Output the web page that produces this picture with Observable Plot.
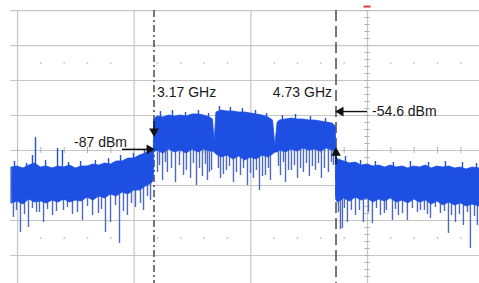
<!DOCTYPE html>
<html>
<head>
<meta charset="utf-8">
<script src="https://cdn.jsdelivr.net/npm/d3@7"></script>
<script src="https://cdn.jsdelivr.net/npm/@observablehq/plot@0.6"></script>
<style>
  html, body { margin: 0; padding: 0; background: #fff; }
  #chart svg { display: block; }
</style>
</head>
<body>
<div id="chart"></div>
<script>
// ---- Data (frequency in GHz, level in dBm) ----
const freq = [1.95,2.00,2.05,2.10,2.15,2.20,2.25,2.30,2.35,2.40,2.45,2.50,2.55,2.60,2.65,2.70,2.75,2.80,2.85,2.90,2.95,3.00,3.05,3.10,3.15,3.168,
  3.172,3.20,3.25,3.30,3.35,3.40,3.45,3.50,3.55,3.60,3.65,3.675,3.69,3.705,3.75,3.80,3.85,3.90,3.95,4.00,4.05,4.10,4.15,4.19,4.21,4.23,4.25,4.30,4.35,4.40,4.45,4.50,4.55,4.60,4.65,4.70,4.728,
  4.732,4.75,4.80,4.85,4.90,4.95,5.00,5.05,5.10,5.15,5.20,5.25,5.30,5.35,5.40,5.45,5.50,5.55,5.60,5.65,5.70,5.75,5.80,5.85,5.90,5.96];

const bandTop = [-102.6,-101.7,-103.4,-100.9,-99.1,-102.6,-101.7,-103.4,-101.7,-102.6,-100.9,-103.4,-101.7,-101.7,-100.0,-100.9,-99.1,-100.0,-97.4,-97.4,-94.9,-94.9,-92.3,-90.6,-88.0,-86.3,
  -61.4,-58.9,-59.7,-58.0,-58.9,-58.0,-58.9,-57.1,-57.1,-58.0,-59.7,-61.4,-81.1,-55.4,-53.7,-54.6,-54.6,-55.4,-55.4,-56.3,-57.1,-58.0,-59.7,-62.3,-83.7,-64.0,-62.3,-61.4,-60.6,-61.4,-61.4,-62.3,-62.3,-63.1,-64.0,-64.9,-67.4,
  -94.0,-95.7,-97.4,-99.1,-98.3,-100.9,-100.0,-101.7,-100.9,-102.6,-100.9,-102.6,-101.7,-103.4,-101.7,-102.6,-100.9,-103.4,-101.7,-102.6,-101.7,-103.4,-102.6,-104.3,-102.6,-103.4];

const bandBottom = [-133.4,-131.7,-134.3,-130.0,-132.6,-131.7,-133.4,-130.9,-132.6,-130.0,-132.6,-130.9,-131.7,-128.3,-130.9,-127.4,-129.1,-125.7,-127.4,-124.0,-125.7,-122.3,-122.3,-118.9,-116.3,-113.7,
  -89.7,-88.0,-90.6,-87.1,-89.7,-88.0,-90.6,-87.1,-89.7,-87.1,-88.9,-88.9,-89.7,-91.4,-94.0,-92.3,-95.7,-93.1,-96.6,-94.0,-95.7,-92.3,-94.0,-91.4,-89.7,-89.7,-88.0,-89.7,-87.1,-88.9,-86.3,-88.0,-87.1,-88.9,-86.3,-88.0,-88.9,
  -130.9,-132.6,-129.1,-131.7,-128.3,-130.9,-129.1,-132.6,-130.0,-131.7,-129.1,-132.6,-130.9,-133.4,-130.0,-132.6,-130.9,-134.3,-131.7,-135.1,-132.6,-135.1,-133.4,-136.0,-134.3,-136.0];

// downward noise spikes: [frequency, start level, tip level]
const downSpikes = [
  [1.965,-120,-145.4],[2.025,-120,-158.3],[2.094,-120,-154.0],[2.163,-120,-141.1],[2.223,-120,-149.7],[2.300,-120,-143.7],
  [2.394,-120,-139.4],[2.471,-120,-142.9],[2.557,-120,-148.0],[2.643,-120,-143.7],[2.694,-118,-142.0],[2.754,-118,-158.3],
  [2.797,-118,-149.7],[2.874,-115,-167.7],[2.942,-112,-143.7],[3.011,-110,-136.9],[3.054,-108,-133.4],[3.080,-106,-139.4],[3.140,-104,-130.9],
  [1.991,-120,-139.4],[2.060,-120,-142.9],[2.128,-120,-137.7],[2.188,-120,-141.1],[2.257,-120,-138.6],[2.334,-120,-140.3],
  [2.428,-120,-136.9],[2.514,-120,-141.1],[2.600,-120,-136.0],[2.720,-118,-138.6],[2.840,-115,-135.1],[2.908,-112,-140.3],
  [2.977,-110,-133.4],[3.114,-104,-127.4],
  [3.200,-75,-106.9],[3.243,-75,-113.7],[3.285,-75,-106.9],[3.354,-75,-115.4],[3.423,-75,-109.4],[3.483,-75,-112.0],
  [3.534,-75,-118.0],[3.585,-75,-110.3],[3.628,-75,-113.7],[3.663,-75,-105.1],[3.740,-75,-112.0],[3.791,-75,-105.1],
  [3.851,-75,-115.4],[3.911,-75,-109.4],[3.971,-75,-118.0],[4.022,-75,-112.0],[4.074,-75,-122.3],[4.125,-75,-109.4],
  [4.168,-75,-113.7],[4.254,-75,-109.4],[4.297,-75,-115.4],[4.348,-75,-105.1],[4.400,-75,-112.0],[4.451,-75,-106.9],
  [4.502,-75,-110.3],[4.554,-75,-105.1],[4.605,-75,-112.0],[4.665,-75,-106.9],[4.708,-75,-100.9],
  [3.217,-75,-100.9],[3.268,-75,-98.3],[3.320,-75,-103.4],[3.388,-75,-100.9],[3.448,-75,-105.1],[3.508,-75,-99.1],
  [3.560,-75,-103.4],[3.611,-75,-100.0],[3.645,-75,-106.9],[3.722,-75,-103.4],[3.765,-75,-108.6],[3.817,-75,-101.7],
  [3.877,-75,-106.9],[3.937,-75,-103.4],[3.997,-75,-107.7],[4.048,-75,-105.1],[4.100,-75,-110.3],[4.151,-75,-103.4],
  [4.237,-75,-101.7],[4.280,-75,-98.3],[4.323,-75,-105.1],[4.374,-75,-100.9],[4.426,-75,-103.4],[4.477,-75,-99.1],
  [4.528,-75,-101.7],[4.580,-75,-99.1],[4.631,-75,-103.4],[4.691,-75,-98.3],
  [4.768,-115,-155.7],[4.785,-115,-154.9],[4.828,-118,-149.7],[4.862,-118,-139.4],[4.897,-118,-143.7],[4.965,-118,-149.7],
  [5.008,-118,-141.1],[5.042,-118,-150.6],[5.111,-118,-143.7],[5.162,-118,-139.4],[5.214,-118,-148.0],[5.265,-118,-143.7],
  [5.342,-118,-148.0],[5.385,-118,-137.7],[5.428,-118,-141.1],[5.488,-118,-139.4],[5.540,-118,-146.3],[5.582,-118,-136.9],
  [5.625,-118,-142.0],[5.694,-118,-159.1],[5.754,-118,-149.7],[5.788,-118,-142.9],[5.822,-118,-152.3],[5.882,-118,-172.0],[5.942,-118,-152.3],
  [4.751,-118,-141.1],[4.802,-118,-137.7],[4.931,-118,-139.4],[5.077,-118,-137.7],[5.145,-118,-142.0],[5.240,-118,-138.6],
  [5.300,-118,-142.0],[5.454,-118,-139.4],[5.514,-118,-142.9],[5.660,-118,-140.3],[5.720,-118,-143.7],[5.857,-118,-141.1],[5.917,-118,-144.6]
];

// upward noise peaks: [frequency, start level, tip level]
const upPeaks = [
  [2.128,-110,-92.3],[2.154,-110,-76.9],[2.343,-110,-86.3],[2.385,-110,-88.0],
  [1.974,-110,-97.4],[2.077,-110,-99.1],[2.240,-110,-96.6],[2.437,-110,-98.3],[2.540,-110,-97.4],[2.668,-110,-96.6],
  [2.780,-108,-94.9],[2.883,-105,-92.3],[2.994,-102,-90.6],[3.088,-100,-88.0],
  [3.225,-70,-54.6],[3.328,-70,-53.7],[3.440,-70,-55.4],[3.551,-70,-53.7],[3.637,-70,-56.3],[3.731,-70,-50.3],
  [3.825,-70,-51.1],[3.928,-70,-52.0],[4.040,-70,-53.7],[4.134,-70,-56.3],[4.271,-70,-58.0],[4.383,-70,-57.1],
  [4.511,-70,-58.9],[4.640,-70,-60.6],
  [4.811,-110,-93.1],[4.940,-110,-96.6],[5.068,-110,-97.4],[5.222,-110,-98.3],[5.368,-110,-97.4],[5.523,-110,-98.3],
  [5.668,-110,-97.4],[5.814,-110,-98.3],[5.934,-110,-99.1]
];

// markers
const markerFreqs = [3.17, 4.73];
const markerLabels = ["3.17 GHz", "4.73 GHz"];
const lowLevel = -87, highLevel = -54.6;
const levelLabels = ["-87 dBm", "-54.6 dBm"];

// display grid
const gridFreqs = [2, 3, 4, 5];
const gridLevels = [32, 2, -28, -58, -88, -118, -148, -178];
const dotFreqs = [2.2,2.4,2.6,2.8,3.2,3.4,3.6,3.8,4.2,4.4,4.6,4.8,5.2,5.4,5.6,5.8];
const dotLevels = [-13, -163];
const centerFreq = 5, refLevel = -88;
const screenLeft = 1.94, screenTop = 32;
const xDomain = [1.854, 5.96], yDomain = [-202, 40.6];

// ---- build ----
const spectrum = freq.map((f, i) => ({f, top: bandTop[i], bottom: bandBottom[i]}));
const toRows = arr => arr.map(([f, a, b]) => ({f, a, b}));
const dots = dotLevels.flatMap(l => dotFreqs.map(f => ({f, l})));
const vTicks = d3.range(-196, 33, 6);
const hTicks = d3.range(20, 60, 2).map(v => v / 10);
const blue = "#1d4fe3";

const chart = Plot.plot({
  width: 479, height: 283, margin: 0,
  style: {background: "#fff", fontFamily: "'Liberation Sans', Arial, sans-serif"},
  x: {domain: xDomain, axis: null},
  y: {domain: yDomain, axis: null},
  marks: [
    Plot.ruleY(gridLevels, {x1: screenLeft, x2: xDomain[1], stroke: "#c6c6c6", strokeWidth: 1.2}),
    Plot.ruleX(gridFreqs, {y1: screenTop, y2: yDomain[0], stroke: "#c6c6c6", strokeWidth: 1.2}),
    Plot.dot(dots, {x: "f", y: "l", r: 0.9, fill: "#c2c2c2", stroke: null}),
    Plot.ruleY(vTicks, {x1: centerFreq - 0.022, x2: centerFreq + 0.022, stroke: "#b0b0b0", strokeWidth: 1}),
    Plot.ruleX(hTicks, {y1: refLevel - 2.6, y2: refLevel + 2.6, stroke: "#b0b0b0", strokeWidth: 1}),
    Plot.ruleY([screenTop + 3.4], {x1: centerFreq - 0.03, x2: centerFreq + 0.03, stroke: "#e0393e", strokeWidth: 2}),
    // marker lines
    Plot.ruleX([markerFreqs[0]], {y1: screenTop, y2: yDomain[0], stroke: "#555", strokeWidth: 1.6, strokeDasharray: "7,3,2,3"}),
    Plot.ruleX([markerFreqs[1]], {y1: screenTop, y2: yDomain[0], stroke: "#555", strokeWidth: 1.6, strokeDasharray: "11,5"}),
    // spectrum
    Plot.ruleX(toRows(downSpikes), {x: "f", y1: "a", y2: "b", stroke: "#4d69c2", strokeWidth: 1.4}),
    Plot.ruleX(toRows(upPeaks), {x: "f", y1: "a", y2: "b", stroke: blue, strokeWidth: 1.4}),
    Plot.areaY(spectrum, {x: "f", y1: "bottom", y2: "top", fill: blue, stroke: blue, strokeWidth: 0.8}),
    // arrows
    Plot.ruleY([lowLevel], {x1: markerFreqs[0] - 0.27, x2: markerFreqs[0] - 0.03, stroke: "#111", strokeWidth: 1.4}),
    Plot.dot([lowLevel], {x: markerFreqs[0] - 0.04, y: d => d, symbol: "triangle", rotate: 90, r: 3.6, fill: "#111", stroke: null}),
    Plot.ruleY([highLevel], {x1: markerFreqs[1] + 0.03, x2: centerFreq, stroke: "#111", strokeWidth: 1.4}),
    Plot.dot([highLevel], {x: markerFreqs[1] + 0.04, y: d => d, symbol: "triangle", rotate: -90, r: 3.6, fill: "#111", stroke: null}),
    Plot.ruleX([markerFreqs[0]], {y1: highLevel - 8.5, y2: highLevel - 18, stroke: "#111", strokeWidth: 1.4}),
    Plot.dot([markerFreqs[0]], {x: d => d, y: highLevel - 17, symbol: "triangle", rotate: 180, r: 3.6, fill: "#111", stroke: null}),
    Plot.ruleX([markerFreqs[1]], {y1: lowLevel - 2, y2: lowLevel - 13, stroke: "#111", strokeWidth: 1.4}),
    Plot.dot([markerFreqs[1]], {x: d => d, y: lowLevel - 3, symbol: "triangle", rotate: 0, r: 3.6, fill: "#111", stroke: null}),
    // labels
    Plot.text([markerLabels[0]], {x: markerFreqs[0], y: highLevel, text: d => d, dx: 3, dy: -19, textAnchor: "start", fontSize: 14, fill: "#1a1a1a"}),
    Plot.text([markerLabels[1]], {x: markerFreqs[1], y: highLevel, text: d => d, dx: -4, dy: -19, textAnchor: "end", fontSize: 14, fill: "#1a1a1a"}),
    Plot.text([levelLabels[1]], {x: markerFreqs[1], y: highLevel, text: d => d, dx: 36, textAnchor: "start", fontSize: 14, fill: "#1a1a1a"}),
    Plot.text([levelLabels[0]], {x: markerFreqs[0], y: lowLevel, text: d => d, dx: -27, dy: -7, textAnchor: "end", fontSize: 14, fill: "#1a1a1a"})
  ]
});
document.getElementById("chart").append(chart);
</script>
</body>
</html>
